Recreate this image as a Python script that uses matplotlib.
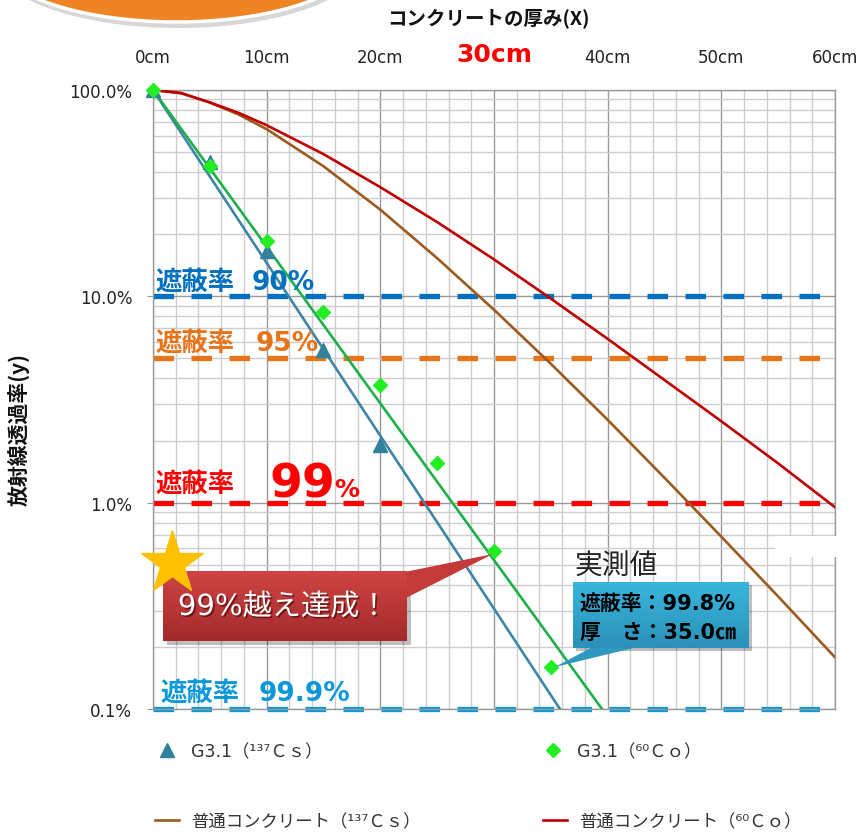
import numpy as np
import matplotlib
matplotlib.use('Agg')
import matplotlib.pyplot as plt
from matplotlib.ticker import MultipleLocator, LogLocator, NullFormatter
from matplotlib.patches import Rectangle, Polygon, Ellipse
from matplotlib.colors import LinearSegmentedColormap
import matplotlib.patheffects as pe

plt.rcParams['font.family'] = ['Noto Sans CJK JP', 'DejaVu Sans']

# ---------------- data ----------------
x_ticks_cm = [0, 10, 20, 30, 40, 50, 60]
x_tick_labels = ['0cm', '10cm', '20cm', '30cm', '40cm', '50cm', '60cm']
y_ticks = [0.1, 1, 10, 100]
y_tick_labels = ['0.1%', '1.0%', '10.0%', '100.0%']

# measured G3.1 values (%)
cs_meas_x = [0, 5, 10, 15, 20]
cs_meas_y = [100, 44.8, 16.5, 5.5, 1.9]
co_meas_x = [0, 5, 10, 15, 20, 25, 30, 35]
co_meas_y = [100, 42.8, 18.6, 8.4, 3.7, 1.55, 0.58, 0.159]

# trend lines of G3.1
cs_fit_x = [0, 35.8]
cs_fit_y = [100, 0.1]
co_fit_x = [0, 39.5]
co_fit_y = [100, 0.1]

# ordinary concrete curves (%)
conc_x = [0, 2.5, 5, 7.5, 10, 15, 20, 25, 30, 35, 40, 45, 50, 55, 60]
conc_co_y = [100, 96.5, 87, 77.6, 67.5, 48.9, 33.8, 22.9, 15.1, 9.75, 6.22, 3.93, 2.48, 1.55, 0.95]
conc_cs_y = [100, 96.5, 87, 76.2, 64.6, 42.7, 26.3, 15.3, 8.61, 4.71, 2.52, 1.32, 0.684, 0.351, 0.178]

shield_levels = [10, 5, 1, 0.1]
shield_colors = ['#0070C0', '#E8741A', '#FF0000', '#0A98DA']

legend_labels = ['G3.1（¹³⁷Ｃｓ）', 'G3.1（⁶⁰Ｃｏ）',
                 '普通コンクリート（¹³⁷Ｃｓ）', '普通コンクリート（⁶⁰Ｃｏ）']

# ---------------- figure ----------------
W, H = 862, 837
fig = plt.figure(figsize=(W / 100, H / 100), dpi=100)
fig.patch.set_facecolor('white')
ax = fig.add_axes([153 / W, 1 - 710 / H, (835 - 153) / W, (710 - 91) / H])

ax.set_yscale('log')
ax.set_xlim(0, 60)
ax.set_ylim(0.1, 100)

ax.xaxis.tick_top()
ax.set_xticks(x_ticks_cm)
ax.set_xticklabels(x_tick_labels, family='DejaVu Sans', fontsize=12, color='#222222')
ax.xaxis.set_minor_locator(MultipleLocator(2))
ax.tick_params(axis='x', which='both', length=0, pad=17)
lab30 = ax.get_xticklabels()[3]
lab30.set_color('#FF0000')
lab30.set_fontsize(18)
lab30.set_fontweight('bold')

ax.set_yticks(y_ticks)
ax.set_yticklabels(y_tick_labels, family='DejaVu Sans', fontsize=12, color='#222222')
ax.yaxis.set_minor_locator(LogLocator(base=10, subs=np.arange(2, 10)))
ax.yaxis.set_minor_formatter(NullFormatter())
ax.tick_params(axis='y', which='major', length=4, color='#999999', pad=11)
ax.tick_params(axis='y', which='minor', length=0)

ax.grid(which='major', color='#9A9A9A', lw=1.0, zorder=0)
ax.grid(which='minor', color='#CDCDCD', lw=1.0, zorder=0)
ax.set_axisbelow(True)
for s in ax.spines.values():
    s.set_color('#9A9A9A')
    s.set_linewidth(1.0)

# shielding-rate dashed lines
for lvl, col in zip(shield_levels, shield_colors):
    ax.axhline(lvl, color=col, lw=3.8, dashes=(3.9, 3.3), zorder=2, clip_on=False)

# concrete curves
h_cs_conc, = ax.plot(conc_x, conc_cs_y, color='#9C5A1E', lw=1.9, zorder=3)
h_co_conc, = ax.plot(conc_x, conc_co_y, color='#C00000', lw=1.9, zorder=3)

# trend lines
ax.plot(cs_fit_x, cs_fit_y, color='#3E86A6', lw=1.9, zorder=4)
ax.plot(co_fit_x, co_fit_y, color='#1DB04A', lw=1.9, zorder=4)

# markers
h_cs, = ax.plot(cs_meas_x, cs_meas_y, ls='none', marker='^', ms=10,
                color='#31809C', zorder=5, clip_on=False)
h_co, = ax.plot(co_meas_x, co_meas_y, ls='none', marker='D', ms=7.5,
                color='#22EE22', zorder=6, clip_on=False)

# ---------------- overlay in pixel coords ----------------
ov = fig.add_axes([0, 0, 1, 1], zorder=10)
ov.patch.set_alpha(0)
ov.axis('off')


def grad_rect(x0, y0, x1, y1, ctop, cbot, z):
    cmap = LinearSegmentedColormap.from_list('g', [ctop, cbot])
    g = np.linspace(0, 1, 64).reshape(-1, 1)
    ov.imshow(g, extent=(x0, x1, y1, y0), cmap=cmap, aspect='auto',
              zorder=z, interpolation='bilinear')


# top-left orange ellipse
ov.add_patch(Ellipse((178.5, -41), 374, 140, facecolor='#B0B0B0', alpha=0.5,
                     edgecolor='none', zorder=1))
ell = Ellipse((176.5, -45), 370, 136, facecolor='#EF8424', edgecolor='white',
              lw=2.5, zorder=2)
ov.add_patch(ell)

# white patch covering grid at right
ov.add_patch(Rectangle((775, 537), 87, 21, facecolor='white', edgecolor='none', zorder=1))

# shielding labels
bold_fam = ['DejaVu Sans', 'Noto Sans CJK JP']
ov.text(155, 283, '遮蔽率', color='#0070C0', fontsize=19, fontweight='bold',
        family=bold_fam, va='center', ha='left', zorder=3)
ov.text(252, 283, '90%', color='#0070C0', fontsize=19, fontweight='bold',
        family=bold_fam, va='center', ha='left', zorder=3)
ov.text(155, 344, '遮蔽率', color='#E8741A', fontsize=19, fontweight='bold',
        family=bold_fam, va='center', ha='left', zorder=3)
ov.text(256, 344, '95%', color='#E8741A', fontsize=19, fontweight='bold',
        family=bold_fam, va='center', ha='left', zorder=3)
ov.text(155, 485, '遮蔽率', color='#FF0000', fontsize=19, fontweight='bold',
        family=bold_fam, va='center', ha='left', zorder=3)
ov.text(270, 497, '99', color='#FF0000', fontsize=34, fontweight='bold',
        family=bold_fam, va='baseline', ha='left', zorder=3)
ov.text(334, 497, '%', color='#FF0000', fontsize=18, fontweight='bold',
        family=bold_fam, va='baseline', ha='left', zorder=3)
ov.text(160, 694, '遮蔽率', color='#0A98DA', fontsize=19, fontweight='bold',
        family=bold_fam, va='center', ha='left', zorder=3)
ov.text(259, 694, '99.9%', color='#0A98DA', fontsize=19, fontweight='bold',
        family=bold_fam, va='center', ha='left', zorder=3)

# red callout
ov.add_patch(Rectangle((167, 576), 244, 70, facecolor='black', alpha=0.25,
                       edgecolor='none', zorder=3))
ov.add_patch(Polygon([(400, 574), (493, 555), (400, 602)], closed=True,
                     facecolor='#C43A3A', edgecolor='none', zorder=4))
grad_rect(163, 572, 407, 642, '#D04444', '#A32A2A', 5)
ov.text(283, 608, '99%越え達成！', color='white', fontsize=21,
        family=['DejaVu Sans', 'Noto Sans CJK JP'], va='center', ha='center', zorder=6,
        path_effects=[pe.withSimplePatchShadow(offset=(1.2, -1.2),
                                               shadow_rgbFace='#400000', alpha=0.6)])

# star
ov.plot([172], [564], marker='*', ms=47.5, color='#FFC000', mec='#FFC000', zorder=7)

# blue callout
ov.text(575, 567, '実測値', color='#222222', fontsize=20, va='center', ha='left', zorder=6)
ov.add_patch(Rectangle((576, 586), 176, 66, facecolor='black', alpha=0.25,
                       edgecolor='none', zorder=3))
ov.add_patch(Polygon([(598, 645), (650, 645), (555, 668)], closed=True,
                     facecolor='#2E98C0', edgecolor='none', zorder=4))
grad_rect(573, 583, 749, 649, '#38B6DE', '#2B91B8', 5)
ov.text(580, 604, '遮蔽率：99.8%', color='black', fontsize=15, fontweight='bold',
        family=bold_fam, va='center', ha='left', zorder=6)
ov.text(580, 633, '厚　さ：35.0㎝', color='black', fontsize=15, fontweight='bold',
        family=bold_fam, va='center', ha='left', zorder=6)

# axis titles
ov.text(488, 18, 'コンクリートの厚み(X)', color='#111111', fontsize=14,
        fontweight='bold', va='center', ha='center', zorder=3)
ov.text(19, 430, '放射線透過率(y)', color='#111111', fontsize=15,
        fontweight='bold', va='center', ha='center', rotation=90, zorder=3)

ov.set_xlim(0, W)
ov.set_ylim(H, 0)

# legend (four entries placed in a 2x2 grid)
handles = [h_cs, h_co, h_cs_conc, h_co_conc]
pos = [(155, 752), (541, 752), (155, 822), (543, 822)]
for h, lab, (px, py) in zip(handles, legend_labels, pos):
    leg = fig.legend([h], [lab], loc='center left',
                     bbox_to_anchor=(px / W, 1 - py / H), frameon=False,
                     borderpad=0, borderaxespad=0, handlelength=1.4,
                     handletextpad=0.7, numpoints=1, fontsize=12.5,
                     labelcolor='#333333',
                     prop={'family': ['DejaVu Sans', 'Noto Sans CJK JP'], 'size': 12.5})

fig.savefig('out.png', dpi=100)
